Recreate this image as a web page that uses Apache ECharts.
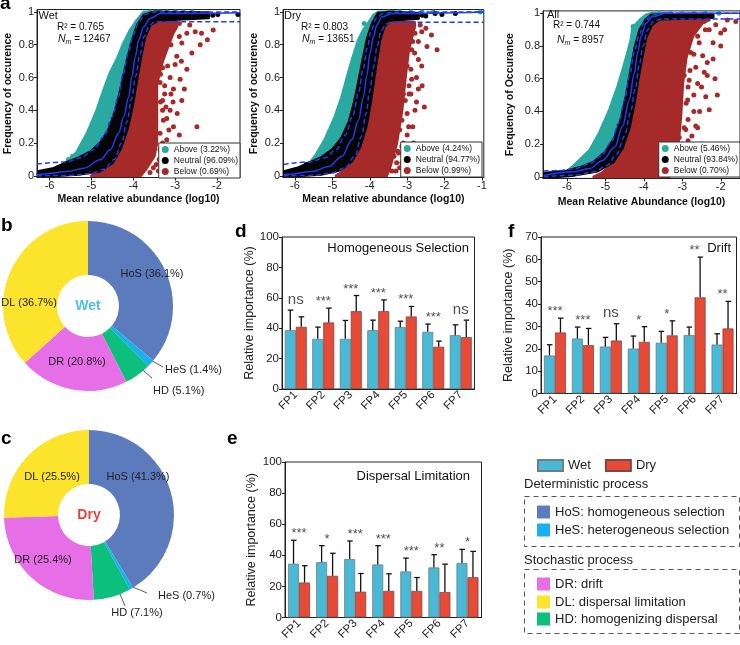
<!DOCTYPE html>
<html>
<head>
<meta charset="utf-8">
<title>Community assembly processes</title>
<script src="https://cdn.jsdelivr.net/npm/echarts@6.0.0/dist/echarts.min.js"></script>
<style>
html,body{margin:0;padding:0;background:#fff;}
#chart{width:740px;height:645px;}
</style>
</head>
<body>
<div id="chart"></div>
<script>
// ================= DATA =================
// ---- panel a : neutral community model ----
const scatterXTicks = [-6, -5, -4, -3, -2];
const scatterXTicksDry = [-6, -5, -4, -3, -2, -1];
const scatterYTicks = [0, 0.2, 0.4, 0.6, 0.8, 1];

const wetLegend = ['Above (3.22%)', 'Neutral (96.09%)', 'Below (0.69%)'];
const dryLegend = ['Above (4.24%)', 'Neutral (94.77%)', 'Below (0.99%)'];
const allLegend = ['Above (5.46%)', 'Neutral (93.84%)', 'Below (0.70%)'];
const wetStats = ['Wet', '0.765', '12467'];
const dryStats = ['Dry', '0.803', '13651'];
const allStats = ['All', '0.744', '8957'];

// Wet
const wetAboveArea = [[-5.62,0.08],[-5.36,0.14],[-5.1,0.26],[-4.87,0.40],[-4.71,0.52],[-4.55,0.63],[-4.39,0.71],[-4.23,0.81],[-4.07,0.89],[-3.91,0.95],[-3.75,1.0],[-3.3,1.0],[-3.5,0.97],[-3.75,0.92],[-3.9,0.82],[-4.02,0.68],[-4.15,0.55],[-4.3,0.42],[-4.45,0.3],[-4.65,0.2],[-4.9,0.13],[-5.2,0.09]];
const wetNeutralArea = [[-6.3,0.0],[-6.3,0.025],[-5.9,0.045],[-5.6,0.08],[-5.3,0.11],[-5.0,0.15],[-4.75,0.21],[-4.55,0.3],[-4.4,0.42],[-4.27,0.56],[-4.15,0.7],[-4.03,0.82],[-3.9,0.92],[-3.75,0.98],[-3.5,1.0],[-2.2,0.995],[-2.2,0.965],[-3.4,0.95],[-3.6,0.92],[-3.72,0.85],[-3.82,0.73],[-3.92,0.58],[-4.02,0.43],[-4.14,0.29],[-4.3,0.17],[-4.5,0.08],[-4.8,0.03],[-5.3,0.01],[-5.9,0.0]];
const wetBelowArea = [[-5.0,0.0],[-3.83,0.0],[-3.7,0.04],[-3.5,0.12],[-3.44,0.2],[-3.44,0.36],[-3.44,0.56],[-3.3,0.7],[-3.2,0.77],[-3.05,0.87],[-2.96,0.91],[-3.0,0.94],[-3.6,0.94],[-3.75,0.88],[-3.88,0.75],[-3.98,0.6],[-4.1,0.42],[-4.22,0.28],[-4.4,0.15],[-4.65,0.06],[-4.85,0.02]];
const wetBelowPoints = [[-2.52,0.88],[-2.37,0.87],[-2.23,0.83],[-2.09,0.89],[-2.72,0.87],[-2.84,0.81],[-2.96,0.73],[-2.72,0.65],[-2.88,0.59],[-3.04,0.53],[-2.84,0.46],[-3.12,0.40],[-3.28,0.34],[-3.04,0.30],[-2.48,0.30],[-3.2,0.22],[-2.96,0.18],[-3.36,0.16],[-2.8,0.12],[-3.2,0.08],[-3.52,0.05],[-3.04,0.04],[-3.3,0.46],[-3.18,0.67],[-3.36,0.57],[-3.36,0.26],[-3.32,0.73],[-3.12,0.6],[-2.65,0.92],[-2.9,0.93],[-3.25,0.12],[-3.6,0.02],[-3.4,0.03],[-3.1,0.5],[-2.6,0.75],[-2.4,0.8],[-3.15,0.28],[-2.95,0.38],[-3.0,0.68],[-3.4,0.8],[-2.78,0.53],
  [-3.35,0.62],[-3.25,0.55],[-3.3,0.4],[-3.2,0.35],[-3.3,0.2],[-3.1,0.15],[-3.38,0.1],[-3.15,0.06],[-3.0,0.1],[-2.9,0.25],[-3.05,0.45],[-3.2,0.85],[-3.1,0.8],[-2.9,0.85],[-3.25,0.5],[-3.35,0.45],[-3.3,0.66],[-2.85,0.7],[-3.22,0.42],[-3.45,0.07]];
const wetNeutralPoints = [[-6.25,0.01],[-6.1,0.015],[-5.95,0.03],[-5.8,0.05],[-5.7,0.06],[-2.1,0.98],[-1.98,0.985],[-1.5,0.985],[-2.3,0.975],[-2.5,0.98],[-2.7,0.975]];
const wetAbovePoints = [[-3.6,1.0],[-3.4,1.0],[-3.2,1.0],[-3.0,1.0],[-2.8,1.0],[-2.6,1.0],[-5.55,0.1],[-5.45,0.12]];
const wetFit = [[-6.3,0.008],[-6.13,0.012],[-5.58,0.026],[-5.18,0.047],[-4.79,0.098],[-4.55,0.159],[-4.35,0.26],[-4.23,0.36],[-4.11,0.48],[-4.03,0.61],[-3.95,0.73],[-3.87,0.83],[-3.75,0.91],[-3.6,0.96],[-3.36,0.99],[-1.45,0.995]];
const wetFitUpper = [[-6.3,0.073],[-5.6,0.085],[-5.25,0.11],[-4.95,0.16],[-4.7,0.24],[-4.5,0.36],[-4.36,0.48],[-4.24,0.62],[-4.12,0.75],[-4.0,0.86],[-3.87,0.94],[-3.72,0.985],[-3.5,1.0],[-1.45,1.0]];
const wetFitLower = [[-6.3,0.0],[-5.5,0.003],[-5.0,0.015],[-4.7,0.04],[-4.45,0.1],[-4.28,0.2],[-4.15,0.33],[-4.04,0.47],[-3.94,0.61],[-3.84,0.74],[-3.74,0.85],[-3.62,0.915],[-3.48,0.94],[-1.45,0.94]];

// Dry
const dryAboveArea = [[-5.6,0.08],[-5.46,0.12],[-5.2,0.22],[-4.93,0.36],[-4.75,0.48],[-4.57,0.63],[-4.44,0.73],[-4.30,0.83],[-4.17,0.89],[-4.04,0.93],[-3.9,0.98],[-3.77,1.0],[-3.3,1.0],[-3.55,0.97],[-3.8,0.9],[-3.93,0.78],[-4.02,0.64],[-4.12,0.5],[-4.22,0.38],[-4.35,0.27],[-4.5,0.19],[-4.75,0.12],[-5.1,0.07]];
const dryNeutralArea = [[-6.3,0.0],[-6.3,0.025],[-5.9,0.05],[-5.6,0.08],[-5.3,0.11],[-5.0,0.16],[-4.75,0.23],[-4.55,0.33],[-4.42,0.44],[-4.3,0.57],[-4.18,0.71],[-4.06,0.84],[-3.93,0.93],[-3.78,0.99],[-3.4,1.0],[-2.7,0.99],[-2.7,0.96],[-3.45,0.95],[-3.62,0.91],[-3.73,0.83],[-3.82,0.7],[-3.91,0.56],[-4.0,0.42],[-4.1,0.3],[-4.26,0.18],[-4.48,0.09],[-4.8,0.035],[-5.3,0.01],[-5.9,0.0]];
const dryBelowArea = [[-4.9,0.0],[-3.55,0.0],[-3.45,0.06],[-3.28,0.2],[-3.14,0.4],[-3.05,0.6],[-2.96,0.77],[-2.8,0.91],[-2.8,0.935],[-3.55,0.935],[-3.72,0.86],[-3.82,0.72],[-3.92,0.57],[-4.02,0.42],[-4.13,0.29],[-4.3,0.16],[-4.5,0.08],[-4.75,0.02]];
const dryBelowPoints = [[-2.47,0.79],[-2.2,0.77],[-2.61,0.67],[-2.88,0.59],[-2.7,0.53],[-2.54,0.42],[-2.79,0.40],[-2.96,0.30],[-3.14,0.18],[-2.96,0.14],[-3.28,0.08],[-2.79,0.87],[-2.61,0.88],[-2.83,0.2],[-3.05,0.46],[-3.14,0.08],[-2.88,0.77],[-2.7,0.71],[-3.0,0.67],[-3.23,0.14],[-3.41,0.03],[-3.14,0.34],[-2.5,0.9],[-2.35,0.86],[-2.9,0.5],[-3.0,0.25],[-2.75,0.6],[-3.3,0.03],[-2.9,0.05],[-2.6,0.55],
  [-3.1,0.2],[-3.2,0.28],[-3.0,0.38],[-2.95,0.5],[-2.9,0.65],[-2.8,0.75],[-2.7,0.82],[-2.65,0.92],[-3.35,0.12],[-3.2,0.05],[-3.05,0.12],[-2.85,0.3],[-2.95,0.55],[-3.05,0.7],[-2.85,0.82],[-3.1,0.5],[-2.75,0.45],[-3.25,0.15]];
const dryNeutralPoints = [[-6.2,0.01],[-6.0,0.02],[-5.8,0.04],[-5.7,0.07],[-2.25,0.99],[-2.07,0.985],[-1.71,0.99],[-2.5,0.975],[-2.6,0.98]];
const dryAbovePoints = [[-3.5,1.0],[-3.2,1.0],[-2.9,1.0],[-2.6,1.0],[-2.3,1.0],[-1.04,1.0],[-4.15,0.93]];
const dryFit = [[-6.3,0.008],[-6.18,0.01],[-5.55,0.026],[-5.1,0.057],[-4.75,0.118],[-4.48,0.22],[-4.30,0.34],[-4.17,0.48],[-4.08,0.61],[-3.99,0.75],[-3.9,0.85],[-3.81,0.92],[-3.68,0.97],[-3.41,0.99],[-0.95,1.0]];
const dryFitUpper = [[-6.3,0.07],[-5.6,0.085],[-5.2,0.11],[-4.9,0.16],[-4.65,0.25],[-4.45,0.37],[-4.3,0.51],[-4.18,0.65],[-4.07,0.78],[-3.96,0.89],[-3.83,0.96],[-3.65,0.99],[-3.3,1.0],[-0.95,1.0]];
const dryFitLower = [[-6.3,0.0],[-5.5,0.003],[-5.0,0.018],[-4.65,0.05],[-4.4,0.12],[-4.22,0.24],[-4.1,0.38],[-4.0,0.52],[-3.9,0.66],[-3.8,0.79],[-3.7,0.88],[-3.58,0.925],[-3.45,0.937],[-0.95,0.937]];

// All
const allAboveArea = [[-5.95,0.04],[-5.76,0.08],[-5.41,0.16],[-5.15,0.27],[-4.89,0.41],[-4.68,0.55],[-4.55,0.65],[-4.42,0.76],[-4.33,0.84],[-4.29,0.91],[-4.1,0.96],[-3.94,0.99],[-3.8,1.0],[-3.3,1.0],[-3.6,0.98],[-3.9,0.92],[-4.05,0.8],[-4.15,0.67],[-4.25,0.53],[-4.36,0.4],[-4.5,0.28],[-4.7,0.17],[-5.0,0.09],[-5.4,0.05]];
const allNeutralArea = [[-6.62,0.0],[-6.62,0.02],[-6.0,0.035],[-5.6,0.06],[-5.3,0.09],[-5.0,0.15],[-4.75,0.24],[-4.58,0.36],[-4.45,0.5],[-4.33,0.66],[-4.22,0.8],[-4.1,0.9],[-3.95,0.96],[-3.8,0.99],[-2.5,0.995],[-2.2,0.99],[-2.2,0.975],[-3.6,0.965],[-3.8,0.93],[-3.95,0.85],[-4.05,0.73],[-4.15,0.6],[-4.25,0.45],[-4.38,0.3],[-4.55,0.18],[-4.8,0.09],[-5.2,0.035],[-5.8,0.01],[-6.3,0.0]];
const allBelowArea = [[-5.3,0.0],[-3.34,0.0],[-3.12,0.16],[-3.04,0.37],[-2.99,0.57],[-2.9,0.73],[-2.73,0.86],[-2.48,0.94],[-2.3,0.96],[-3.6,0.965],[-3.85,0.9],[-3.98,0.8],[-4.08,0.68],[-4.18,0.55],[-4.28,0.42],[-4.4,0.28],[-4.55,0.17],[-4.8,0.08],[-5.1,0.02]];
const allBelowPoints = [[-1.83,0.96],[-1.61,0.95],[-2.3,0.9],[-2.13,0.93],[-2.56,0.82],[-2.47,0.74],[-2.65,0.67],[-2.82,0.59],[-2.39,0.49],[-2.09,0.5],[-2.86,0.47],[-2.3,0.41],[-2.65,0.31],[-2.91,0.29],[-3.08,0.24],[-2.82,0.18],[-2.95,0.12],[-3.17,0.08],[-2.73,0.10],[-2.6,0.57],[-2.78,0.76],[-2.91,0.84],[-3.08,0.41],[-2.43,0.64],[-2.2,0.82],[-2.0,0.88],[-2.55,0.4],[-2.75,0.25],[-3.0,0.05],[-2.5,0.2],[-2.85,0.35],[-2.7,0.5],[-2.35,0.7],[-2.15,0.6],
  [-3.0,0.2],[-2.95,0.3],[-2.9,0.45],[-2.85,0.55],[-2.8,0.65],[-2.7,0.75],[-2.6,0.86],[-2.4,0.9],[-3.1,0.1],[-3.2,0.04],[-2.95,0.62],[-2.7,0.4],[-2.6,0.3],[-2.5,0.55],[-2.35,0.62],[-2.2,0.72],[-2.0,0.8],[-1.9,0.9],[-2.45,0.95],[-2.85,0.22]];
const allNeutralPoints = [[-6.55,0.01],[-6.3,0.02],[-6.1,0.025],[-5.9,0.03],[-2.4,0.99],[-2.6,0.985],[-2.8,0.99]];
const allAbovePoints = [[-3.6,1.0],[-3.3,1.0],[-3.0,1.0],[-2.7,1.0],[-2.4,1.0],[-2.05,1.0],[-4.28,0.92]];
const allFit = [[-6.6,0.008],[-5.84,0.03],[-5.41,0.05],[-5.07,0.10],[-4.76,0.18],[-4.55,0.31],[-4.38,0.47],[-4.25,0.63],[-4.16,0.76],[-4.07,0.86],[-3.94,0.94],[-3.77,0.98],[-3.43,1.0],[-1.5,1.0]];
const allFitUpper = [[-6.6,0.035],[-6.2,0.038],[-5.8,0.05],[-5.4,0.08],[-5.1,0.13],[-4.85,0.21],[-4.65,0.33],[-4.5,0.47],[-4.37,0.62],[-4.25,0.76],[-4.12,0.87],[-3.98,0.95],[-3.8,0.99],[-3.5,1.0],[-1.5,1.0]];
const allFitLower = [[-6.6,0.0],[-5.8,0.01],[-5.3,0.03],[-4.95,0.07],[-4.7,0.14],[-4.5,0.25],[-4.35,0.39],[-4.22,0.54],[-4.12,0.68],[-4.02,0.8],[-3.9,0.9],[-3.75,0.95],[-3.55,0.965],[-1.5,0.965]];

// ---- panels b, c : process shares ----
const processCodes = ['HoS', 'HeS', 'HD', 'DR', 'DL'];
const wetShares = [36.1, 1.4, 5.1, 20.8, 36.7];
const dryShares = [41.3, 0.7, 7.1, 25.4, 25.5];
const deterministicLabels = ['HoS: homogeneous selection', 'HeS: heterogeneous selection'];
const stochasticLabels = ['DR: drift', 'DL: dispersal limitation', 'HD: homogenizing dispersal'];

// ---- panels d, e, f : relative importance ----
const fpCategories = ['FP1', 'FP2', 'FP3', 'FP4', 'FP5', 'FP6', 'FP7'];
const hosWet = [38.7, 33.0, 33.0, 38.7, 40.7, 37.6, 35.4];
const hosWetSd = [13.2, 7.7, 12.1, 6.6, 3.9, 5.1, 6.8];
const hosDry = [40.9, 43.8, 51.2, 51.2, 47.7, 27.8, 34.1];
const hosDrySd = [6.6, 9.4, 10.3, 7.4, 6.6, 3.7, 11.2];
const hosSig = ['ns', '***', '***', '***', '***', '***', 'ns'];
const dlWet = [34.6, 35.6, 37.6, 34.1, 29.6, 32.2, 35.0];
const dlWetSd = [15.1, 10.6, 11.6, 12.1, 8.6, 8.2, 8.8];
const dlDry = [22.5, 26.8, 16.6, 17.1, 17.1, 16.4, 25.9];
const dlDrySd = [10.8, 14.5, 11.7, 11.0, 8.6, 17.9, 16.6];
const dlSig = ['***', '*', '***', '***', '***', '**', '*'];
const drWet = [17.0, 24.6, 21.0, 20.1, 22.7, 26.1, 21.9];
const drWetSd = [4.8, 5.1, 4.1, 5.6, 5.1, 3.6, 4.8];
const drDry = [27.3, 21.6, 23.7, 23.1, 26.0, 43.0, 29.1];
const drDrySd = [6.4, 7.5, 7.5, 6.8, 6.5, 18.0, 12.1];
const drSig = ['***', '***', 'ns', '*', '*', '**', '**'];

// ================= STYLE / LAYOUT =================
const FONT = '"Liberation Sans", Arial, Helvetica, sans-serif';
const COL = {
  above: '#2aa9a1', neutral: '#050505', below: '#a62a2a', fit: '#1d3cf5',
  wet: '#4ab9d6', dry: '#e74a36',
  HoS: '#5b7bbd', HeS: '#19aff0', HD: '#0dbf7c', DR: '#e66ee6', DL: '#fde42c'
};
const BAR_W = 11;

const scatterPanels = [
  { grid: {left: 37, top: 9.5, width: 203, height: 168}, xMin: -6.3, xMax: -1.45, xTicks: scatterXTicks,
    xName: 'Mean relative abundance (log10)', yName: 'Frequency of occurence', xGap: 16, yGap: 23,
    legend: wetLegend, legendPos: {right: 500, top: 143}, stats: wetStats, textPos: [38.5, 15.5, 57, 27, 58, 39.5],
    above: wetAboveArea, neutral: wetNeutralArea, below: wetBelowArea,
    aboveP: wetAbovePoints, neutralP: wetNeutralPoints, belowP: wetBelowPoints,
    fit: wetFit, up: wetFitUpper, low: wetFitLower },
  { grid: {left: 283, top: 9.5, width: 200.8, height: 168}, xMin: -6.32, xMax: -0.95, xTicks: scatterXTicksDry,
    xName: 'Mean relative abundance (log10)', yName: 'Frequency of occurence', xGap: 16, yGap: 23,
    legend: dryLegend, legendPos: {right: 258, top: 142}, stats: dryStats, textPos: [284, 15.5, 301, 27, 302, 39.5],
    above: dryAboveArea, neutral: dryNeutralArea, below: dryBelowArea,
    aboveP: dryAbovePoints, neutralP: dryNeutralPoints, belowP: dryBelowPoints,
    fit: dryFit, up: dryFitUpper, low: dryFitLower },
  { grid: {left: 543, top: 10.9, width: 198.4, height: 167.5}, xMin: -6.62, xMax: -1.5, xTicks: scatterXTicks,
    xName: 'Mean Relative Abundance (log10)', yName: 'Frequency of Occurance', xGap: 18, yGap: 27,
    legend: allLegend, legendPos: {right: 0, top: 142}, stats: allStats, textPos: [547, 15, 553, 25.5, 557, 40],
    above: allAboveArea, neutral: allNeutralArea, below: allBelowArea,
    aboveP: allAbovePoints, neutralP: allNeutralPoints, belowP: allBelowPoints,
    fit: allFit, up: allFitUpper, low: allFitLower }
];

const barPanels = [
  { grid: {left: 282, top: 237, width: 192.5, height: 152}, max: 100, interval: 20, yGap: 24,
    wet: hosWet, wetSd: hosWetSd, dry: hosDry, drySd: hosDrySd, sig: hosSig,
    title: 'Homogeneous Selection', titlePos: [469, 248] },
  { grid: {left: 285, top: 462, width: 196.5, height: 155.5}, max: 100, interval: 20, yGap: 27,
    wet: dlWet, wetSd: dlWetSd, dry: dlDry, drySd: dlDrySd, sig: dlSig,
    title: 'Dispersal Limitation', titlePos: [470, 476] },
  { grid: {left: 541, top: 237, width: 195.5, height: 156.5}, max: 70, interval: 10, yGap: 26,
    wet: drWet, wetSd: drWetSd, dry: drDry, drySd: drDrySd, sig: drSig,
    title: 'Drift', titlePos: [731, 248] }
];

const pieLayouts = [
  { center: [88, 306], shares: wetShares, name: 'Wet', nameColor: '#4fc1e2',
    labels: {
      HoS: {x: 152, y: 274, align: 'center'},
      HeS: {x: 165, y: 370, align: 'left', line: [[147, 358], [163, 367], [163, 367]]},
      HD:  {x: 153, y: 391, align: 'left', line: [[137, 365], [152, 378], [152, 378]]},
      DR:  {x: 77, y: 362, align: 'center'},
      DL:  {x: 29, y: 303, align: 'center'}
    } },
  { center: [89, 515], shares: dryShares, name: 'Dry', nameColor: '#e6453c',
    labels: {
      HoS: {x: 138, y: 477, align: 'center'},
      HeS: {x: 158, y: 596, align: 'left', line: [[128, 585], [147, 593], [147, 593]]},
      HD:  {x: 137, y: 613, align: 'center', line: [[117, 587], [125, 606], [125, 606]]},
      DR:  {x: 43, y: 560, align: 'center'},
      DL:  {x: 52, y: 477, align: 'center'}
    } }
];

// ================= BUILD =================
function txt(x, y, text, font, fill, align, vAlign, extra) {
  const style = Object.assign({
    text: text, font: font, fill: fill || '#111',
    align: align || 'left', verticalAlign: vAlign || 'middle',
    textAlign: align || 'left', textVerticalAlign: vAlign || 'middle'
  }, extra || {});
  return { type: 'text', x: x, y: y, silent: true, z: 100, style: style };
}

const grids = [], xAxes = [], yAxes = [], series = [], legends = [], graphics = [];

function polySeries(name, poly, color, gi, z) {
  return {
    type: 'custom', name: name, xAxisIndex: gi, yAxisIndex: gi, z: z, clip: true, silent: true,
    data: poly,
    renderItem: function (params, api) {
      if (params.dataIndex !== 0) return null;
      const pts = poly.map(function (p) { return api.coord(p); });
      return { type: 'polygon', shape: { points: pts },
        style: { fill: color, stroke: color, lineWidth: 3, lineJoin: 'round' } };
    }
  };
}
function dotSeries(name, pts, color, gi, z) {
  return { type: 'scatter', name: name, xAxisIndex: gi, yAxisIndex: gi, z: z, silent: true,
    data: pts, symbolSize: 5, itemStyle: { color: color, opacity: 1 } };
}
function lineSeries(pts, gi, dashed) {
  return { type: 'line', xAxisIndex: gi, yAxisIndex: gi, z: 6, silent: true, data: pts,
    symbol: 'none', smooth: 0.35, smoothMonotone: 'x',
    lineStyle: { color: COL.fit, width: 1.5, type: dashed ? [5, 3] : 'solid' } };
}

scatterPanels.forEach(function (p, gi) {
  grids.push(Object.assign({ show: true, borderColor: '#222', borderWidth: 1, containLabel: false }, p.grid));
  xAxes.push({
    gridIndex: gi, type: 'value', min: p.xMin, max: p.xMax,
    axisLine: { onZero: false, lineStyle: { color: '#222' } },
    axisTick: { customValues: p.xTicks, length: 3, lineStyle: { color: '#222' } },
    axisLabel: { customValues: p.xTicks, fontSize: 11, color: '#222', margin: 3, fontFamily: FONT },
    splitLine: { show: false },
    name: p.xName, nameLocation: 'middle', nameGap: p.xGap,
    nameTextStyle: { fontWeight: 'bold', fontSize: 10.5, color: '#111', fontFamily: FONT }
  });
  yAxes.push({
    gridIndex: gi, type: 'value', min: -0.01, max: 1.015,
    axisLine: { onZero: false, lineStyle: { color: '#222' } },
    axisTick: { customValues: scatterYTicks, length: 3, lineStyle: { color: '#222' } },
    axisLabel: { customValues: scatterYTicks, fontSize: 11, color: '#222', margin: 3, fontFamily: FONT },
    splitLine: { show: false },
    name: p.yName, nameLocation: 'middle', nameGap: p.yGap,
    nameTextStyle: { fontWeight: 'bold', fontSize: 10.5, color: '#111', fontFamily: FONT }
  });
  series.push(polySeries(p.legend[0], p.above, COL.above, gi, 1));
  series.push(polySeries(p.legend[2], p.below, COL.below, gi, 1));
  series.push(dotSeries(p.legend[2], p.belowP, COL.below, gi, 2));
  series.push(dotSeries(p.legend[0], p.aboveP, COL.above, gi, 2));
  series.push(polySeries(p.legend[1], p.neutral, COL.neutral, gi, 3));
  series.push(dotSeries(p.legend[1], p.neutralP, COL.neutral, gi, 3));
  series.push(lineSeries(p.up, gi, true));
  series.push(lineSeries(p.low, gi, true));
  series.push(lineSeries(p.fit, gi, false));
  const legendColors = [COL.above, COL.neutral, COL.below];
  legends.push(Object.assign({
    data: p.legend.map(function (n, k) { return { name: n, icon: 'circle', itemStyle: { color: legendColors[k] } }; }),
    orient: 'vertical', itemWidth: 7, itemHeight: 7, itemGap: 2, padding: [2, 2, 2, 3],
    backgroundColor: '#fff', borderColor: '#333', borderWidth: 1, selectedMode: false, z: 20,
    textStyle: { fontSize: 8.5, color: '#111', fontFamily: FONT }
  }, p.legendPos));
  const t = p.textPos;
  graphics.push(txt(t[0], t[1], p.stats[0], '11px ' + FONT, '#111'));
  graphics.push(txt(t[2], t[3], 'R\u00B2 = ' + p.stats[1], '10px ' + FONT, '#111'));
  graphics.push(txt(t[4], t[5], '{i|N}{s|m}{r| = ' + p.stats[2] + '}', '10px ' + FONT, '#111', 'left', 'middle', {
    rich: {
      i: { fontStyle: 'italic', fontSize: 10.5, lineHeight: 13, fontFamily: FONT, fill: '#111' },
      s: { fontStyle: 'italic', fontSize: 7, lineHeight: 7, verticalAlign: 'bottom', fontFamily: FONT, fill: '#111' },
      r: { fontSize: 10, lineHeight: 13, fontFamily: FONT, fill: '#111' }
    }
  }));
});

barPanels.forEach(function (p, k) {
  const gi = scatterPanels.length + k;
  grids.push(Object.assign({ show: true, borderColor: '#222', borderWidth: 1, containLabel: false }, p.grid));
  xAxes.push({
    gridIndex: gi, type: 'category', data: fpCategories,
    axisLine: { lineStyle: { color: '#222' } },
    axisTick: { alignWithLabel: true, length: 3, lineStyle: { color: '#222' } },
    axisLabel: { rotate: 45, fontSize: 11.5, color: '#222', margin: 4, fontFamily: FONT }
  });
  yAxes.push({
    gridIndex: gi, type: 'value', min: 0, max: p.max, interval: p.interval,
    axisLine: { show: true, lineStyle: { color: '#222' } },
    axisTick: { show: true, length: 3, lineStyle: { color: '#222' } },
    axisLabel: { fontSize: 11.5, color: '#222', margin: 3, fontFamily: FONT },
    splitLine: { show: false },
    name: 'Relative importance (%)', nameLocation: 'middle', nameGap: p.yGap,
    nameTextStyle: { fontSize: 12.5, color: '#222', fontFamily: FONT }
  });
  series.push({ type: 'bar', name: 'Wet', xAxisIndex: gi, yAxisIndex: gi, data: p.wet, barWidth: BAR_W, barGap: '0%',
    silent: true, z: 2, itemStyle: { color: COL.wet, borderColor: '#6d7f86', borderWidth: 0.8 } });
  series.push({ type: 'bar', name: 'Dry', xAxisIndex: gi, yAxisIndex: gi, data: p.dry, barWidth: BAR_W, barGap: '0%',
    silent: true, z: 2, itemStyle: { color: COL.dry, borderColor: '#7a4a44', borderWidth: 0.8 } });
  [[p.wet, p.wetSd, -1], [p.dry, p.drySd, 1]].forEach(function (e) {
    series.push({
      type: 'custom', xAxisIndex: gi, yAxisIndex: gi, z: 4, silent: true,
      data: e[0].map(function (m, i) { return [i, m, e[1][i]]; }),
      renderItem: function (params, api) {
        const i = api.value(0), m = api.value(1), s = api.value(2);
        const b = api.coord([i, m]), t = api.coord([i, m + s]);
        const x = b[0] + e[2] * BAR_W / 2;
        return { type: 'group', children: [
          { type: 'line', shape: { x1: x, y1: b[1], x2: x, y2: t[1] }, style: { stroke: '#111', lineWidth: 1.3 } },
          { type: 'line', shape: { x1: x - 2.5, y1: t[1], x2: x + 3, y2: t[1] }, style: { stroke: '#111', lineWidth: 1.3 } }
        ] };
      }
    });
  });
  series.push({
    type: 'scatter', xAxisIndex: gi, yAxisIndex: gi, z: 5, silent: true, symbolSize: 0.1,
    itemStyle: { color: 'rgba(0,0,0,0)' },
    data: p.sig.map(function (s, i) {
      return { name: s, value: [i, Math.max(p.wet[i] + p.wetSd[i], p.dry[i] + p.drySd[i])],
        label: { fontSize: s === 'ns' ? 15 : 13, distance: s === 'ns' ? 3 : 0 } };
    }),
    label: { show: true, position: 'top', formatter: '{b}', color: '#222', fontFamily: FONT }
  });
  graphics.push(txt(p.titlePos[0], p.titlePos[1], p.title, '13px ' + FONT, '#111', 'right'));
});

legends.push({
  data: [{ name: 'Wet', icon: 'rect' }, { name: 'Dry', icon: 'rect' }],
  left: 537, top: 459, itemWidth: 25, itemHeight: 11, itemGap: 14, padding: 0, selectedMode: false,
  textStyle: { fontSize: 13, color: '#222', fontFamily: FONT }
});

pieLayouts.forEach(function (pl) {
  series.push({
    type: 'pie', center: pl.center, radius: [31, 85], startAngle: 90, clockwise: true,
    avoidLabelOverlap: false, silent: true, z: 2,
    data: processCodes.map(function (c, i) {
      const item = { name: c, value: pl.shares[i], itemStyle: { color: COL[c] } };
      if (pl.labels[c].line) {
        item.label = { position: 'outside' };
        item.labelLine = { show: true, length: 8, length2: 4, lineStyle: { color: '#333', width: 0.8 } };
      }
      return item;
    }),
    label: { show: true, position: 'inside', formatter: '{b} ({c}%)', fontSize: 11, color: '#222', fontFamily: FONT },
    labelLine: { show: false },
    labelLayout: function (params) {
      const lp = pl.labels[processCodes[params.dataIndex]];
      const o = { x: lp.x, y: lp.y, align: lp.align, verticalAlign: 'middle' };
      if (lp.line) o.labelLinePoints = lp.line;
      return o;
    }
  });
  graphics.push(txt(pl.center[0], pl.center[1], pl.name, 'bold 14px ' + FONT, pl.nameColor, 'center'));
});

// panel letters
[['a', 0, 4], ['b', 1, 225.5], ['c', 1, 439], ['d', 235, 231.5], ['e', 227, 439], ['f', 508, 231.5]].forEach(function (l) {
  graphics.push(txt(l[1], l[2], l[0], 'bold 19px ' + FONT, '#000'));
});

// process legend
graphics.push(txt(524, 484, 'Deterministic process', '13px ' + FONT, '#222'));
graphics.push({ type: 'rect', silent: true, shape: { x: 524.5, y: 496.5, width: 215, height: 50 },
  style: { fill: 'none', stroke: '#555', lineWidth: 1, lineDash: [5, 4] } });
graphics.push(txt(524, 560, 'Stochastic process', '13px ' + FONT, '#222'));
graphics.push({ type: 'rect', silent: true, shape: { x: 524.5, y: 569.5, width: 215, height: 64 },
  style: { fill: 'none', stroke: '#555', lineWidth: 1, lineDash: [5, 4] } });
const legendRows = [
  [deterministicLabels[0], COL.HoS, 512], [deterministicLabels[1], COL.HeS, 530],
  [stochasticLabels[0], COL.DR, 584], [stochasticLabels[1], COL.DL, 602], [stochasticLabels[2], COL.HD, 619]
];
legendRows.forEach(function (r) {
  graphics.push({ type: 'rect', silent: true, shape: { x: 537, y: r[2] - 6.5, width: 13, height: 13 }, style: { fill: r[1] } });
  graphics.push(txt(555, r[2], r[0], '13px ' + FONT, '#222'));
});

const chart = echarts.init(document.getElementById('chart'), null, { renderer: 'canvas' });
chart.setOption({
  animation: false,
  backgroundColor: '#fff',
  textStyle: { fontFamily: FONT },
  grid: grids, xAxis: xAxes, yAxis: yAxes,
  legend: legends,
  series: series,
  graphic: graphics
});
</script>
</body>
</html>
